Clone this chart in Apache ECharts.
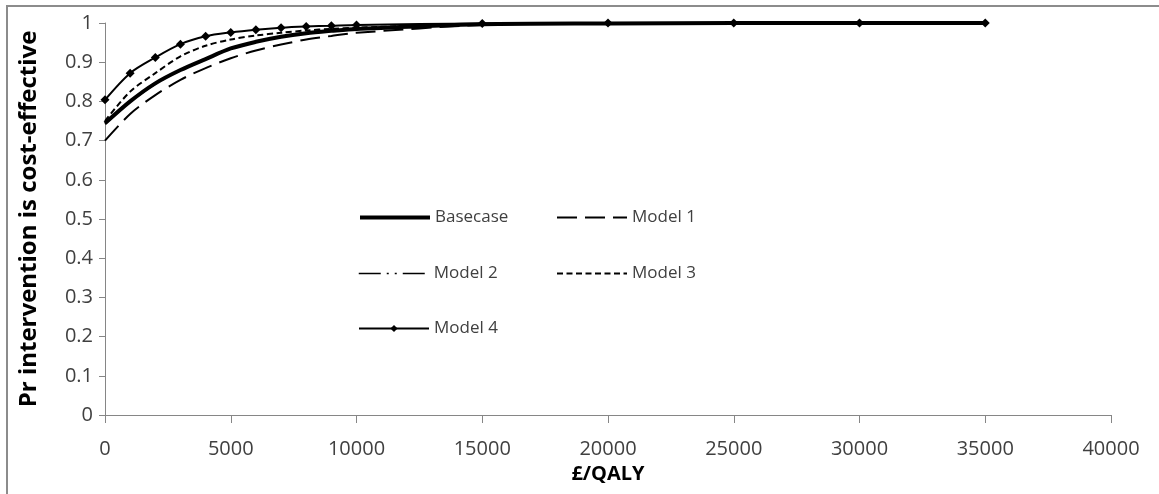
<!DOCTYPE html>
<html>
<head>
<meta charset="utf-8">
<script src="https://cdn.jsdelivr.net/npm/echarts@6/dist/echarts.min.js"></script>
<style>html,body{margin:0;padding:0;background:#fff}#c{width:1159px;height:494px}</style>
</head>
<body>
<div id="c"></div>
<script>
const xValues = [0,1000,2000,3000,4000,5000,6000,7000,8000,9000,10000,15000,20000,25000,30000,35000];
const basecase = [0.744,0.800,0.846,0.880,0.908,0.935,0.952,0.965,0.974,0.980,0.985,0.997,0.999,1,1,1];
const model1   = [0.700,0.768,0.816,0.855,0.885,0.910,0.930,0.945,0.958,0.967,0.975,0.995,0.999,1,1,1];
const model2   = [0.742,0.798,0.844,0.879,0.907,0.934,0.951,0.964,0.973,0.980,0.985,0.997,0.999,1,1,1];
const model3   = [0.750,0.825,0.872,0.915,0.942,0.958,0.968,0.975,0.981,0.985,0.988,0.998,1,1,1,1];
const model4   = [0.804,0.872,0.912,0.946,0.966,0.976,0.983,0.988,0.991,0.993,0.995,0.999,1,1,1,1];
const seriesNames = ['Basecase','Model 1','Model 2','Model 3','Model 4'];
const xTicks = {min:0, max:40000, interval:5000};
const yTicks = {min:0, max:1, interval:0.1};

const pair = arr => xValues.map((x,i)=>[x,arr[i]]);
const font = "'Open Sans', 'Noto Sans', sans-serif";

const chart = echarts.init(document.getElementById('c'), null, {renderer:'canvas'});
const legendPos = [[358,209],[556,209],[358,265],[556,265],[358,320]];
const legendWidths = [4,2,1.5,2,2];
chart.setOption({
  animation:false,
  backgroundColor:'#fff',
  graphic:[{type:'rect',shape:{x:7,y:6,width:1300,height:700},style:{fill:null,stroke:'#8c8c8c',lineWidth:2},silent:true}],
  grid:{left:105,right:48,top:23,bottom:79},
  legend: seriesNames.map((n,i)=>({
    data:[n], left:legendPos[i][0], top:legendPos[i][1], padding:0,
    itemWidth:70, itemHeight: i===4 ? 9 : 16, itemGap:8,
    itemStyle: i===4 ? {} : {opacity:0},
    lineStyle:{width:legendWidths[i]},
    textStyle:{fontFamily:font,fontSize:17,color:'#404040'}
  })),
  xAxis:{type:'value',min:xTicks.min,max:xTicks.max,interval:xTicks.interval,
    name:'£/QALY',nameLocation:'middle',nameGap:46,
    nameTextStyle:{fontFamily:font,fontSize:20,fontWeight:'bold',color:'#000'},
    axisLine:{lineStyle:{color:'#868686',width:1}},
    axisTick:{show:true,length:8,lineStyle:{color:'#868686'}},
    axisLabel:{fontFamily:font,fontSize:20,color:'#404040',margin:24,formatter:v=>String(v)},
    splitLine:{show:false}},
  yAxis:{type:'value',min:yTicks.min,max:yTicks.max,interval:yTicks.interval,
    name:'Pr intervention is cost-effective',nameLocation:'middle',nameGap:64,
    nameTextStyle:{fontFamily:font,fontSize:24,fontWeight:'bold',color:'#000'},
    axisLine:{show:true,lineStyle:{color:'#868686',width:1}},
    axisTick:{show:true,length:6,lineStyle:{color:'#868686'}},
    axisLabel:{fontFamily:font,fontSize:20,color:'#404040',margin:12},
    splitLine:{show:false}},
  series:[
    {name:'Basecase',type:'line',data:pair(basecase),smooth:0.3,symbol:'none',
      lineStyle:{color:'#000',width:4},itemStyle:{color:'#000'}},
    {name:'Model 1',type:'line',data:pair(model1),smooth:0.3,symbol:'none',
      lineStyle:{color:'#000',width:2,type:[20,8]},itemStyle:{color:'#000'}},
    {name:'Model 2',type:'line',data:pair(model2),smooth:0.3,symbol:'none',
      lineStyle:{color:'#000',width:1.5,type:[22,6,2,6,2,6]},itemStyle:{color:'#000'}},
    {name:'Model 3',type:'line',data:pair(model3),smooth:0.3,symbol:'none',
      lineStyle:{color:'#000',width:2,type:[6,3.5]},itemStyle:{color:'#000'}},
    {name:'Model 4',type:'line',data:pair(model4),smooth:0.3,symbol:'diamond',symbolSize:9,showSymbol:true,
      lineStyle:{color:'#000',width:2},itemStyle:{color:'#000'}}
  ]
});
</script>
</body>
</html>
